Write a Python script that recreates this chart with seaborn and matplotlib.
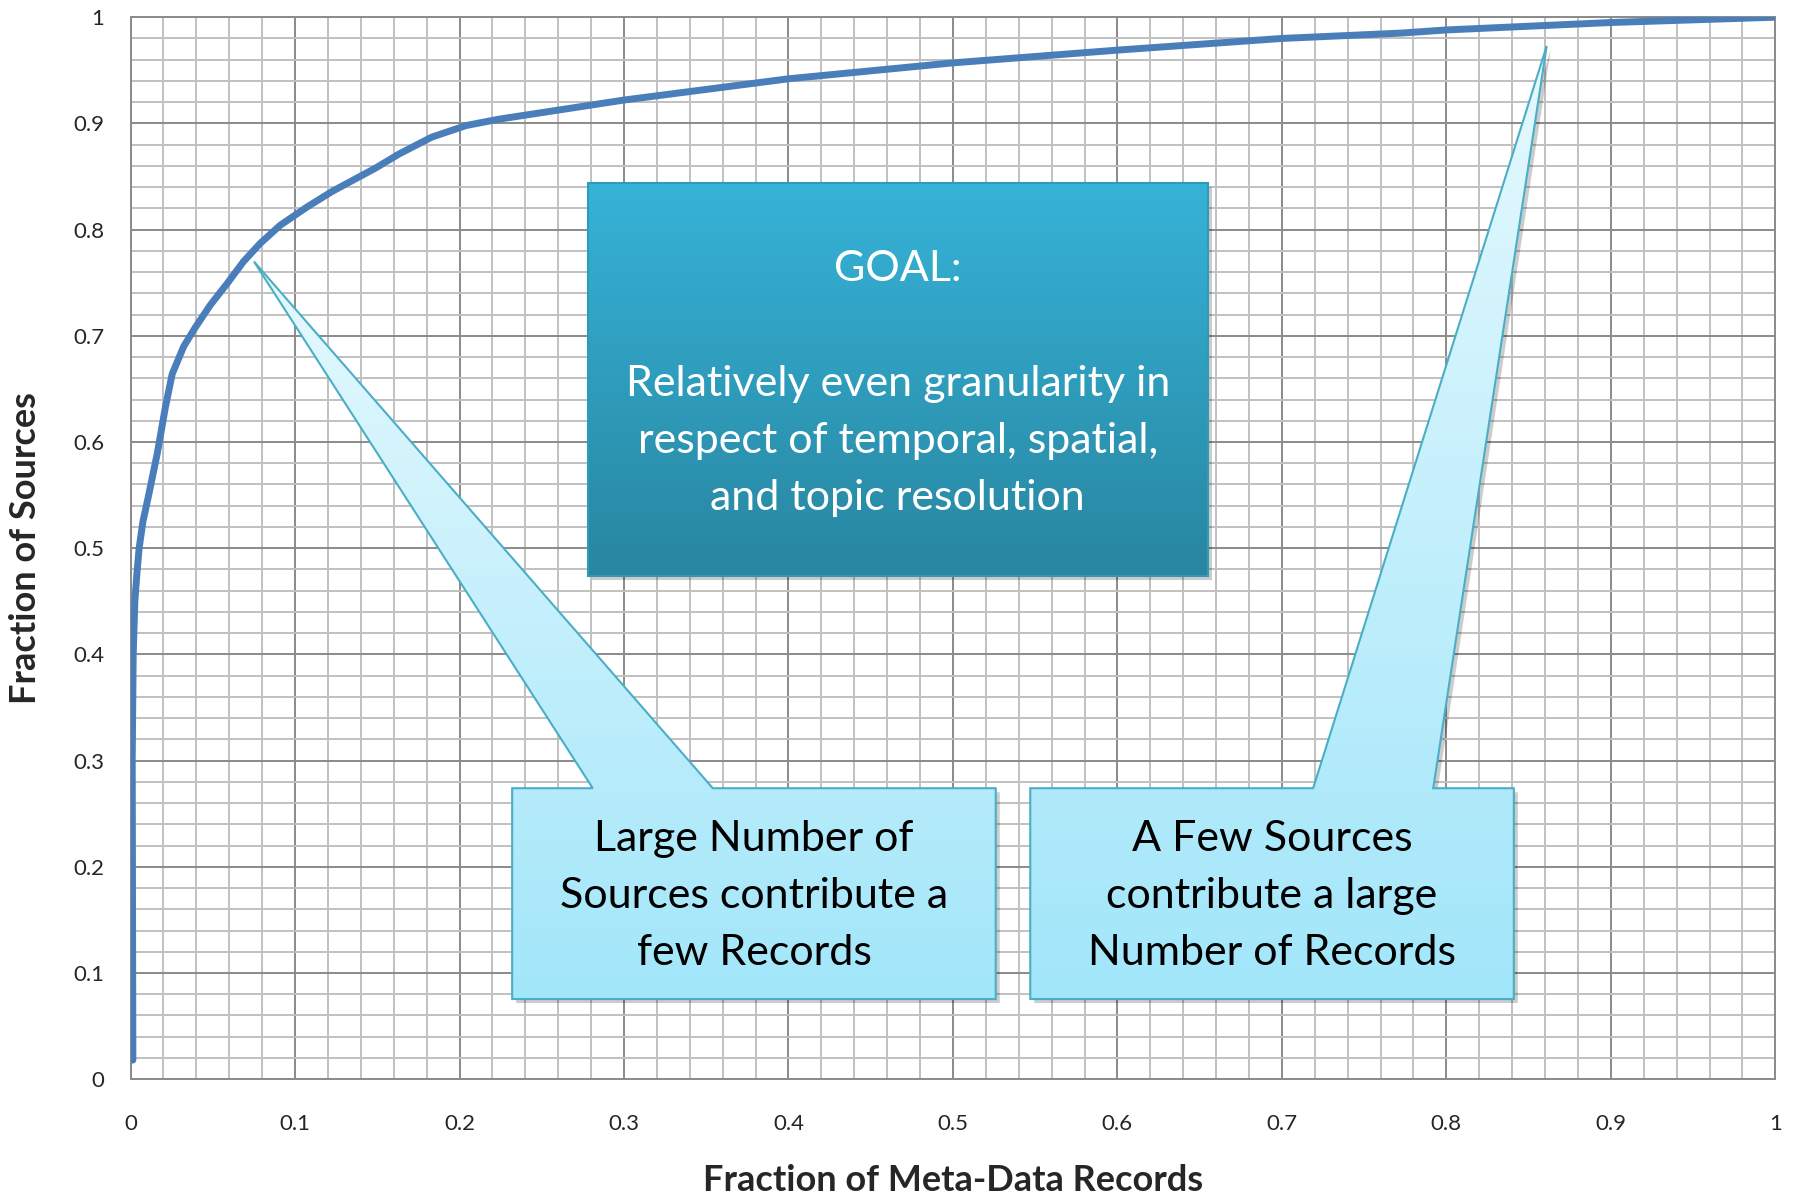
# Curva de concentración: fracción de fuentes vs fracción de registros

import numpy as np
import pandas as pd
import seaborn as sns
import matplotlib.pyplot as plt
from matplotlib.patches import Polygon
from matplotlib.colors import LinearSegmentedColormap
from matplotlib.ticker import MultipleLocator
import matplotlib.transforms as mtransforms

#%% Datos
frac_registros = [0.0014, 0.0010, 0.0016, 0.0026, 0.0038, 0.0052, 0.0075, 0.011, 0.0162,
                  0.0212, 0.0253, 0.0323, 0.0394, 0.0485, 0.0586, 0.0687, 0.0788, 0.0909,
                  0.107, 0.1226, 0.149, 0.163, 0.183, 0.204, 0.224, 0.30, 0.40, 0.50,
                  0.60, 0.70, 0.772, 0.80, 0.90, 1.0]
frac_fuentes = [0.018, 0.30, 0.40, 0.45, 0.475, 0.50, 0.525, 0.55, 0.589,
                0.633, 0.664, 0.690, 0.708, 0.729, 0.749, 0.770, 0.787, 0.804,
                0.821, 0.836, 0.858, 0.871, 0.887, 0.898, 0.904, 0.922, 0.942, 0.957,
                0.969, 0.980, 0.985, 0.988, 0.995, 1.0]

ticks = [0, 0.1, 0.2, 0.3, 0.4, 0.5, 0.6, 0.7, 0.8, 0.9, 1]
tick_labels = ["0", "0.1", "0.2", "0.3", "0.4", "0.5", "0.6", "0.7", "0.8", "0.9", "1"]

texto_meta = "GOAL:\n\nRelatively even granularity in\nrespect of temporal, spatial,\nand topic resolution"
texto_izq = "Large Number of\nSources contribute a\nfew Records"
texto_der = "A Few Sources\ncontribute a large\nNumber of Records"

df = pd.DataFrame({"registros": frac_registros, "fuentes": frac_fuentes})

#%% Estilo
sns.set_style("white")
plt.rcParams['font.family'] = ['Lato', 'DejaVu Sans']

fig = plt.figure(figsize=(17.96, 12.03), dpi=100)
ax = fig.add_axes([0.0727, 0.1029, 0.9158, 0.8828])

sns.lineplot(data=df, x="registros", y="fuentes", ax=ax, color="#4A7EBB",
             lw=5, sort=False, zorder=3)

# grilla mayor y menor
ax.set_xlim(0, 1)
ax.set_ylim(0, 1)
ax.xaxis.set_minor_locator(MultipleLocator(0.02))
ax.yaxis.set_minor_locator(MultipleLocator(0.02))
ax.set_xticks(ticks)
ax.set_xticklabels(tick_labels)
ax.set_yticks(ticks)
ax.set_yticklabels(tick_labels)
ax.grid(which="minor", color="#C0C0C0", linewidth=1.4, zorder=0)
ax.grid(which="major", color="#8A8A8A", linewidth=1.4, zorder=0)
ax.set_axisbelow(True)
for s in ax.spines.values():
    s.set_color("#8A8A8A")
    s.set_linewidth(1.4)
ax.tick_params(which="major", length=7, color="#8A8A8A", width=1.4, labelsize=16)
ax.tick_params(axis="x", pad=18)
ax.tick_params(axis="y", pad=12)
ax.tick_params(which="minor", length=0)

ax.set_xlabel("Fraction of Meta-Data Records", fontsize=26, fontweight="bold", labelpad=22)
ax.set_ylabel("Fraction of Sources", fontsize=26, fontweight="bold", labelpad=22)

#%% Funciones para los recuadros
sombra = mtransforms.offset_copy(ax.transData, fig=fig, x=4, y=-4, units="dots")

def recuadro(verts, color_arriba, color_abajo, borde, z):
    verts = np.array(verts)
    poly_sombra = Polygon(verts, closed=True, facecolor="black", alpha=0.2,
                          edgecolor="none", transform=sombra, zorder=z - 0.2)
    ax.add_patch(poly_sombra)
    poly = Polygon(verts, closed=True, facecolor="none", edgecolor=borde,
                   linewidth=1.5, zorder=z + 0.1)
    ax.add_patch(poly)
    grad = np.linspace(0, 1, 256).reshape(-1, 1)
    cmap = LinearSegmentedColormap.from_list("g", [color_arriba, color_abajo])
    im = ax.imshow(grad, extent=[verts[:, 0].min(), verts[:, 0].max(),
                                 verts[:, 1].min(), verts[:, 1].max()],
                   origin="upper", cmap=cmap, aspect="auto", zorder=z,
                   interpolation="bicubic")
    im.set_clip_path(poly)

# recuadro central (GOAL)
recuadro([(0.278, 0.844), (0.655, 0.844), (0.655, 0.474), (0.278, 0.474)],
         "#36B3D8", "#2886A0", "#2E9BB8", 4)
ax.text(0.4665, 0.655, texto_meta, ha="center", va="center", color="white",
        fontsize=31, linespacing=1.62, zorder=6)

# llamada izquierda
recuadro([(0.232, 0.274), (0.281, 0.274), (0.075, 0.770), (0.354, 0.274),
          (0.526, 0.274), (0.526, 0.0755), (0.232, 0.0755)],
         "#E6F9FE", "#A2E6FA", "#4AAEC6", 4)
ax.text(0.379, 0.1726, texto_izq, ha="center", va="center", color="black",
        fontsize=31, linespacing=1.6, zorder=6)

# llamada derecha
recuadro([(0.547, 0.274), (0.719, 0.274), (0.861, 0.973), (0.792, 0.274),
          (0.841, 0.274), (0.841, 0.0755), (0.547, 0.0755)],
         "#E6F9FE", "#A2E6FA", "#4AAEC6", 4)
ax.text(0.694, 0.1726, texto_der, ha="center", va="center", color="black",
        fontsize=31, linespacing=1.6, zorder=6)

ax.set_xlim(0, 1)
ax.set_ylim(0, 1)

fig.savefig("out.png", dpi=100)
